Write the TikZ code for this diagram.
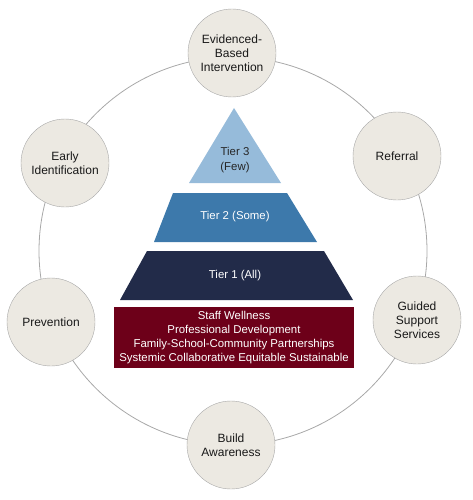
\documentclass[tikz,border=0pt]{standalone}
\usepackage{fontspec}
\setmainfont{Liberation Sans}
\definecolor{ringgray}{HTML}{A8A8A8}
\definecolor{bubble}{HTML}{ECE9E2}
\definecolor{tierthree}{HTML}{96BBDA}
\definecolor{tiertwo}{HTML}{3D79AB}
\definecolor{tierone}{HTML}{222B49}
\definecolor{basered}{HTML}{6D0019}
\begin{document}
\begin{tikzpicture}[x=1pt,y=-1pt,
  topic/.style={circle,draw=ringgray,fill=bubble,minimum size=88pt,inner sep=0pt,
    align=center,text=black!90,font=\fontsize{12}{13.8}\selectfont},
  tiertext/.style={text=white,align=center,font=\fontsize{11.4}{14.2}\selectfont}]
\useasboundingbox (0,0) rectangle (473,500);
% outer ring
\draw[ringgray,line width=0.8pt] (233,251) circle[radius=194pt];

\node[topic] (ebi) at (232,53) {Evidenced-\\Based\\Intervention};
\node[topic] (ref) at (397,156) {Referral};
\node[topic] (gss) at (417,320) {Guided\\Support\\Services};
\node[topic] (ba) at (231,445) {Build\\Awareness};
\node[topic] (prev) at (51,322) {Prevention};
\node[topic] (ei) at (65,163) {Early\\Identification};

% pyramid
\fill[tierthree] (234,108) -- (281,183) -- (189,183) -- cycle;
\node[tiertext,text=black!85] (t3) at (235,160) {Tier 3\\(Few)};
\fill[tiertwo] (173,193) -- (287,193) -- (317,242) -- (154,242) -- cycle;
\node[tiertext] (t2) at (235,217) {Tier 2 (Some)};
\fill[tierone] (147,251) -- (324,251) -- (353,300) -- (120,300) -- cycle;
\node[tiertext] (t1) at (235,276) {Tier 1 (All)};
\fill[basered] (114,307) rectangle (354,368);
\node[tiertext] (base) at (234,337.5) {Staff Wellness\\Professional Development\\Family-School-Community Partnerships\\Systemic Collaborative Equitable Sustainable};
\end{tikzpicture}
\end{document}
